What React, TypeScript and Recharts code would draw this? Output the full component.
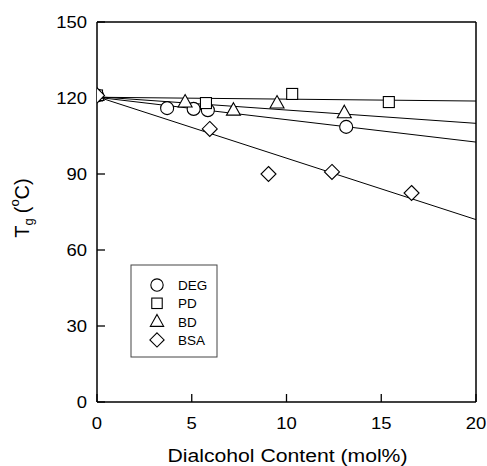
import React from 'react';
import {
  ComposedChart,
  XAxis,
  YAxis,
  Scatter,
  Line,
  ReferenceLine,
  Label,
  Customized,
} from 'recharts';

// Measured glass transition temperatures vs. dialcohol content
const degPoints = [
  { x: 0, y: 121 },
  { x: 3.7, y: 116 },
  { x: 5.1, y: 115.7 },
  { x: 5.85, y: 115.2 },
  { x: 13.15, y: 108.6 },
];
const pdPoints = [
  { x: 0, y: 121 },
  { x: 5.75, y: 118 },
  { x: 10.3, y: 121.6 },
  { x: 15.4, y: 118.4 },
];
const bdPoints = [
  { x: 0, y: 121 },
  { x: 4.65, y: 118.4 },
  { x: 7.2, y: 115.2 },
  { x: 9.5, y: 118 },
  { x: 13.05, y: 114.2 },
];
const bsaPoints = [
  { x: 0, y: 121 },
  { x: 5.95, y: 107.8 },
  { x: 9.05, y: 90 },
  { x: 12.4, y: 90.8 },
  { x: 16.6, y: 82.5 },
];

// Linear fits for each series
const degFit = [{ x: 0, y: 120.3 }, { x: 20, y: 102.6 }];
const pdFit = [{ x: 0, y: 120.3 }, { x: 20, y: 118.8 }];
const bdFit = [{ x: 0, y: 120.5 }, { x: 20, y: 110 }];
const bsaFit = [{ x: 0, y: 120.5 }, { x: 20, y: 72 }];

const xTicks = [0, 5, 10, 15, 20];
const yTicks = [0, 30, 60, 90, 120, 150];
const seriesNames = ['DEG', 'PD', 'BD', 'BSA'];

const FONT = '"Liberation Sans", Arial, Helvetica, sans-serif';
const INK = '#000';

type Kind = 'circle' | 'square' | 'triangle' | 'diamond';

const Marker = ({ kind, cx, cy, scale = 1 }: { kind: Kind; cx: number; cy: number; scale?: number }) => {
  const common = { fill: '#fff', stroke: INK, strokeWidth: 1.1 };
  if (kind === 'circle') return <circle cx={cx} cy={cy} r={6.5 * scale} {...common} />;
  if (kind === 'square') {
    const h = 5.5 * scale;
    return <rect x={cx - h} y={cy - h} width={2 * h} height={2 * h} {...common} />;
  }
  if (kind === 'triangle') {
    const w = 7 * scale;
    const up = 7.5 * scale;
    const down = 5 * scale;
    return <polygon points={`${cx},${cy - up} ${cx + w},${cy + down} ${cx - w},${cy + down}`} {...common} />;
  }
  const d = 7.5 * scale;
  return <polygon points={`${cx},${cy - d} ${cx + d},${cy} ${cx},${cy + d} ${cx - d},${cy}`} {...common} />;
};

const shapeFor = (kind: Kind) => (props: any) => <Marker kind={kind} cx={props.cx} cy={props.cy} />;

const kinds: Kind[] = ['circle', 'square', 'triangle', 'diamond'];

const LegendBox = () => {
  const x0 = 131;
  const y0 = 265;
  return (
    <g>
      <rect x={x0} y={y0} width={86} height={92} fill="#fff" stroke="#444" strokeWidth={1} />
      {seriesNames.map((name, i) => {
        const cy = 285 + i * 18.3;
        return (
          <g key={name}>
            <Marker kind={kinds[i]} cx={157} cy={cy} scale={0.95} />
            <text x={178} y={cy + 5} fontFamily={FONT} fontSize={13.5} fill={INK}>
              {name}
            </text>
          </g>
        );
      })}
    </g>
  );
};

const YTitle = () => {
  const cx = 22;
  const cy = 208;
  return (
    <text
      x={cx}
      y={cy}
      transform={`rotate(-90 ${cx} ${cy})`}
      textAnchor="middle"
      fontFamily={FONT}
      fontSize={20}
      fill={INK}
      dominantBaseline="central"
    >
      T
      <tspan fontSize={13} dy={6}>g</tspan>
      <tspan dx={5} dy={-6}>(</tspan>
      <tspan fontSize={13} dy={-8}>o</tspan>
      <tspan dy={8}>C)</tspan>
    </text>
  );
};

const XTitle = () => (
  <text
    x={287.5}
    y={462}
    textAnchor="middle"
    fontFamily={FONT}
    fontSize={17.5}
    fill={INK}
    textLength={240}
    lengthAdjust="spacingAndGlyphs"
  >
    Dialcohol Content (mol%)
  </text>
);

// Tick text, slightly widened like the printed figure
const XTick = (props: any) => {
  const { x, y, payload } = props;
  return (
    <text
      transform={`translate(${x},${y}) scale(1.12,1)`}
      textAnchor="middle"
      dy="0.71em"
      fontFamily={FONT}
      fontSize={16.5}
      fill={INK}
    >
      {payload.value}
    </text>
  );
};

const YTick = (props: any) => {
  const { x, y, payload } = props;
  return (
    <text
      transform={`translate(${x},${y}) scale(1.12,1)`}
      textAnchor="end"
      dy="0.355em"
      fontFamily={FONT}
      fontSize={16.5}
      fill={INK}
    >
      {payload.value}
    </text>
  );
};

export default function App() {
  return (
    <div style={{ position: 'absolute', left: 0, top: 0, width: 487, height: 466, background: '#fff' }}>
      <ComposedChart width={487} height={466} margin={{ top: 22, right: 11, bottom: 34, left: 0 }}>
        <XAxis
          type="number"
          dataKey="x"
          domain={[0, 20]}
          ticks={xTicks}
          allowDataOverflow
          height={30}
          tickSize={-8}
          tickMargin={23}
          tick={<XTick />}
          stroke={INK}
          strokeWidth={1.5}
          tickLine={{ stroke: INK, strokeWidth: 1.3 }}
        >
          <Label content={<XTitle />} />
        </XAxis>
        <YAxis
          type="number"
          dataKey="y"
          domain={[0, 150]}
          ticks={yTicks}
          allowDataOverflow
          width={97}
          tickSize={-8}
          tickMargin={18}
          tick={<YTick />}
          stroke={INK}
          strokeWidth={1.5}
          tickLine={{ stroke: INK, strokeWidth: 1.3 }}
        >
          <Label content={<YTitle />} />
        </YAxis>
        <ReferenceLine y={150} stroke={INK} strokeWidth={1.5} />
        <ReferenceLine x={20} stroke={INK} strokeWidth={1.5} />

        <Line data={pdFit} dataKey="y" type="linear" stroke={INK} strokeWidth={1} dot={false} isAnimationActive={false} />
        <Line data={bdFit} dataKey="y" type="linear" stroke={INK} strokeWidth={1} dot={false} isAnimationActive={false} />
        <Line data={degFit} dataKey="y" type="linear" stroke={INK} strokeWidth={1} dot={false} isAnimationActive={false} />
        <Line data={bsaFit} dataKey="y" type="linear" stroke={INK} strokeWidth={1} dot={false} isAnimationActive={false} />

        <Scatter name="DEG" data={degPoints} shape={shapeFor('circle')} isAnimationActive={false} />
        <Scatter name="PD" data={pdPoints} shape={shapeFor('square')} isAnimationActive={false} />
        <Scatter name="BD" data={bdPoints} shape={shapeFor('triangle')} isAnimationActive={false} />
        <Scatter name="BSA" data={bsaPoints} shape={shapeFor('diamond')} isAnimationActive={false} />

        <Customized component={LegendBox} />
      </ComposedChart>
    </div>
  );
}
